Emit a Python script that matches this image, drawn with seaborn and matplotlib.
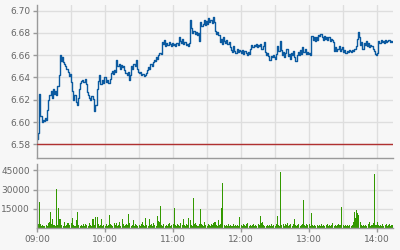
import matplotlib
matplotlib.use("Agg")
import matplotlib.pyplot as plt
import seaborn as sns
import numpy as np
import pandas as pd

price = [
    6.585, 6.590, 6.625, 6.605, 6.600, 6.602, 6.601, 6.604, 6.602, 6.611,
    6.620, 6.624, 6.628, 6.622, 6.630, 6.625, 6.628, 6.624, 6.632, 6.642,
    6.660, 6.655, 6.658, 6.654, 6.652, 6.650, 6.648, 6.645, 6.641, 6.643,
    6.636, 6.628, 6.620, 6.624, 6.618, 6.615, 6.622, 6.630, 6.635, 6.637,
    6.638, 6.636, 6.639, 6.634, 6.627, 6.624, 6.622, 6.620, 6.623, 6.621,
    6.610, 6.615, 6.615, 6.630, 6.637, 6.642, 6.634, 6.638, 6.635, 6.640,
    6.640, 6.636, 6.638, 6.635, 6.639, 6.644, 6.646, 6.643, 6.647, 6.645,
    6.656, 6.650, 6.652, 6.648, 6.651, 6.649, 6.650, 6.647, 6.644, 6.642,
    6.645, 6.638, 6.642, 6.650, 6.648, 6.652, 6.650, 6.656, 6.648, 6.645,
    6.644, 6.645, 6.642, 6.643, 6.641, 6.642, 6.644, 6.647, 6.649, 6.648,
    6.652, 6.650, 6.654, 6.656, 6.655, 6.658, 6.657, 6.660, 6.662, 6.661,
    6.672, 6.670, 6.674, 6.668, 6.671, 6.669, 6.672, 6.670, 6.668, 6.671,
    6.669, 6.670, 6.668, 6.671, 6.669, 6.676, 6.673, 6.671, 6.675, 6.670,
    6.672, 6.669, 6.670, 6.668, 6.671, 6.692, 6.684, 6.680, 6.682, 6.679,
    6.681, 6.678, 6.680, 6.673, 6.690, 6.686, 6.688, 6.692, 6.687, 6.691,
    6.688, 6.693, 6.690, 6.692, 6.689, 6.694, 6.690, 6.682, 6.679, 6.681,
    6.678, 6.672, 6.675, 6.670, 6.676, 6.673, 6.671, 6.674, 6.670, 6.672,
    6.667, 6.665, 6.663, 6.668, 6.664, 6.662, 6.666, 6.663, 6.665, 6.664,
    6.662, 6.665, 6.661, 6.664, 6.662, 6.660, 6.663, 6.661, 6.666, 6.669,
    6.667, 6.669, 6.668, 6.670, 6.667, 6.669, 6.668, 6.670, 6.666, 6.668,
    6.672, 6.663, 6.660, 6.662, 6.659, 6.656, 6.659, 6.658, 6.660, 6.658,
    6.657, 6.661, 6.668, 6.664, 6.673, 6.665, 6.660, 6.663, 6.658, 6.662,
    6.666, 6.659, 6.661, 6.657, 6.662, 6.660, 6.664, 6.658, 6.655, 6.660,
    6.663, 6.660, 6.665, 6.661, 6.667, 6.663, 6.666, 6.661, 6.663, 6.661,
    6.662, 6.660, 6.677, 6.674, 6.676, 6.673, 6.676, 6.674, 6.678, 6.677,
    6.679, 6.676, 6.674, 6.677, 6.675, 6.676, 6.674, 6.676, 6.673, 6.675,
    6.674, 6.672, 6.664, 6.667, 6.664, 6.666, 6.668, 6.664, 6.666, 6.667,
    6.663, 6.665, 6.662, 6.664, 6.663, 6.665, 6.664, 6.663, 6.665, 6.664,
    6.666, 6.668, 6.675, 6.681, 6.676, 6.669, 6.672, 6.666, 6.671, 6.669,
    6.673, 6.668, 6.671, 6.667, 6.669, 6.668, 6.666, 6.664, 6.661, 6.660,
    6.662, 6.673, 6.671, 6.674, 6.672, 6.673, 6.671, 6.674, 6.672, 6.673,
    6.674, 6.672, 6.673, 6.672, 6.673,
]

volume = [
    7600, 3400, 20000, 2800, 1500, 2200, 1200, 1800, 2600, 1400,
    3800, 4600, 12500, 3200, 7200, 2400, 1900, 30400, 2100, 15600,
    7300, 7100, 2300, 1600, 4800, 1200, 2100, 4200, 3600, 2400,
    4100, 8100, 2200, 1400, 1900, 6400, 12600, 2600, 1800, 2300,
    1500, 2900, 1300, 3400, 2100, 1700, 3900, 2400, 1600, 6800,
    7200, 2100, 8600, 8400, 3200, 1900, 2400, 6800, 1800, 2600,
    1400, 2800, 1900, 2300, 10500, 3100, 2700, 1600, 4100, 2200,
    3600, 1800, 2400, 4700, 1500, 7300, 2900, 1700, 2200, 3300,
    2600, 11300, 4100, 1900, 2500, 6500, 1800, 3400, 2100, 1600,
    2300, 1500, 2800, 4600, 2400, 1900, 8100, 2700, 1800, 7300,
    2100, 3100, 1600, 4200, 2300, 1800, 9200, 5800, 4400, 17000,
    2600, 1700, 3300, 1900, 2400, 1500, 2800, 3600, 1700, 2200,
    2900, 15700, 2100, 1600, 3200, 2500, 1800, 3900, 2300, 7400,
    2100, 1700, 3100, 2400, 8100, 5900, 2700, 1900, 23600, 2800,
    4000, 2300, 1600, 2900, 15200, 3400, 2100, 1800, 4800, 2500,
    1900, 3300, 2400, 1700, 2800, 2100, 3600, 4500, 2300, 1800,
    5900, 2700, 3100, 16000, 35400, 2400, 1300, 2200, 1600, 2900,
    1800, 2400, 1400, 3300, 1900, 2700, 1500, 2300, 1700, 8600,
    2600, 1900, 3200, 2100, 1600, 2800, 3700, 1800, 2500, 1400,
    2200, 3100, 1700, 2400, 1600, 2900, 2000, 9400, 3600, 4800,
    2300, 1700, 1300, 2600, 1900, 2200, 1500, 2800, 1800, 2400,
    1700, 3300, 9400, 2100, 1600, 44000, 2400, 3500, 1800, 2900,
    2200, 3600, 1700, 2500, 3100, 1900, 2800, 7300, 2300, 1600,
    2700, 3400, 1900, 2600, 3000, 21700, 2400, 1800, 2900, 2200,
    3100, 1900, 11800, 2500, 1600, 2200, 1400, 2700, 1900, 2300,
    1500, 2800, 1700, 2400, 1300, 2100, 3000, 1600, 2500, 1800,
    2200, 4200, 1900, 2600, 1700, 2300, 3400, 2000, 2700, 16500,
    2400, 1600, 2100, 1300, 2500, 1800, 2200, 1500, 2400, 4600,
    12600, 8200, 13900, 11500, 10000, 4800, 2100, 1700, 2600, 1900,
    2300, 1500, 2900, 4800, 1800, 2400, 2700, 3700, 42200, 2600,
    4500, 2100, 1700, 2400, 1900, 2800, 1600, 2300, 3000, 1800,
    2200, 2900, 1700, 2500, 2100,
]

prev_close = 6.58
time_ticks = [0, 60, 120, 180, 240, 300]
time_labels = ["09:00", "10:00", "11:00", "12:00", "13:00", "14:00"]
price_ticks = [6.58, 6.60, 6.62, 6.64, 6.66, 6.68, 6.70]
vol_ticks = [15000, 30000, 45000]

minutes = list(range(len(price)))
df = pd.DataFrame({"minute": minutes, "price": price, "volume": volume})

sns.set_style("white")
plt.rcParams["font.family"] = ["DejaVu Sans"]

bg = "#f7f7f7"
grid_c = "#dedede"
spine_c = "#9a9a9a"
text_c = "#666666"

fig = plt.figure(figsize=(4, 2.5), dpi=100, facecolor=bg)
ax1 = fig.add_axes([0.0925, 0.368, 0.89, 0.612])
ax2 = fig.add_axes([0.0925, 0.088, 0.89, 0.256])

for ax in (ax1, ax2):
    ax.set_facecolor(bg)
    for s in ("top", "right"):
        ax.spines[s].set_visible(False)
    for s in ("left", "bottom"):
        ax.spines[s].set_color(spine_c)
        ax.spines[s].set_linewidth(1)
    ax.set_axisbelow(True)

sns.lineplot(data=df, x="minute", y="price", ax=ax1, color="#0b5aa0",
             linewidth=1.0, drawstyle="steps-post", estimator=None)
ax1.axhline(prev_close, color="#b03030", linewidth=1.0, zorder=3)

sns.barplot(data=df, x="minute", y="volume", ax=ax2, native_scale=True,
            color="#339900", saturation=1, width=0.9, linewidth=0,
            edgecolor="none")

xmax = 314
for ax in (ax1, ax2):
    ax.set_xlim(0, xmax)
    ax.set_xticks(list(range(0, xmax + 1, 30)), minor=False)
    for v in range(30, xmax + 1, 30):
        ax.axvline(v, color=grid_c, linewidth=1, zorder=0)
    ax.set_xlabel("")
    ax.set_ylabel("")

ax1.set_ylim(6.5677, 6.7051)
ax1.set_yticks(price_ticks)
ax1.set_yticklabels([f"{v:.2f}" for v in price_ticks])
for v in price_ticks:
    ax1.axhline(v, color=grid_c, linewidth=1, zorder=0)
ax1.set_xticks([])

ax2.set_ylim(0, 50050)
ax2.set_yticks(vol_ticks)
ax2.set_yticklabels([str(v) for v in vol_ticks])
for v in vol_ticks:
    ax2.axhline(v, color=grid_c, linewidth=1, zorder=0)
ax2.set_xticks(time_ticks)
ax2.set_xticklabels(time_labels)

for ax in (ax1, ax2):
    ax.tick_params(axis="both", colors=spine_c, labelcolor=text_c,
                   labelsize=6.5, length=3, width=1, pad=2, left=True,
                   bottom=True)
ax1.tick_params(axis="x", bottom=False)

fig.savefig("out.png", dpi=100, facecolor=bg)
